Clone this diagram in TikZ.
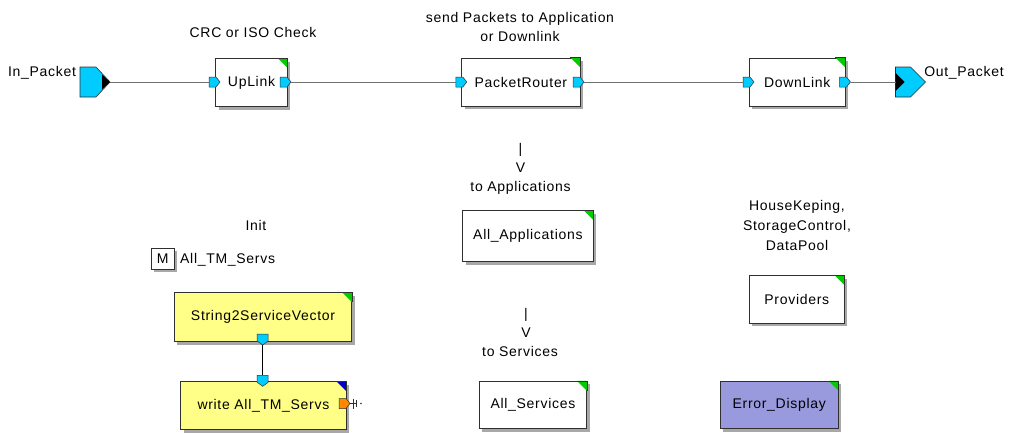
\documentclass[tikz,border=0pt]{standalone}
\usepackage{fontspec}
\setmainfont{Liberation Sans}[LetterSpace=5]
\usetikzlibrary{shadows}
\definecolor{portblue}{HTML}{00CCFF}
\definecolor{cgreen}{HTML}{00CC00}
\definecolor{cblue}{HTML}{0000CC}
\definecolor{byellow}{HTML}{FFFF88}
\definecolor{blav}{HTML}{9999DD}
\definecolor{porange}{HTML}{FF8800}
\definecolor{wire}{HTML}{707070}
\definecolor{shadowgray}{HTML}{A8A8A8}
\definecolor{edge}{HTML}{303030}
\tikzset{
  blk/.style={draw=edge, line width=0.8pt, fill=white, inner sep=0pt,
    drop shadow={shadow xshift=3pt, shadow yshift=-3pt, fill=shadowgray, opacity=1}},
  portbox/.style={inner sep=0pt, outer sep=0pt, minimum width=11pt, minimum height=10pt},
  downbox/.style={inner sep=0pt, outer sep=0pt, minimum width=11pt, minimum height=11pt},
  bigbox/.style={inner sep=0pt, outer sep=0pt, minimum width=30pt, minimum height=30pt},
  portfill/.style={draw=edge, line width=0.5pt, fill=portblue},
  wireline/.style={draw=wire, line width=0.9pt},
  lbl/.style={inner sep=0pt, align=center},
}
\newcommand\corner[2]{%
  \fill[#2] (#1.north east) -- ([xshift=-10pt]#1.north east) -- ([yshift=-10pt]#1.north east) -- cycle;
  \draw[edge, line width=0.8pt] ([xshift=-10pt]#1.north east) -- (#1.north east) -- ([yshift=-10pt]#1.north east);}
% right-pointing pentagon on a named node: #1 name, #2 chamfer, #3 style
\newcommand\penteast[3]{%
  \path[#3] (#1.north west) -- ([xshift=-#2]#1.north east) -- (#1.east) -- ([xshift=-#2]#1.south east) -- (#1.south west) -- cycle;}
\newcommand\pentsouth[3]{%
  \path[#3] (#1.north west) -- (#1.north east) -- ([yshift=#2]#1.south east) -- (#1.south) -- ([yshift=#2]#1.south west) -- cycle;}
\begin{document}
\begin{tikzpicture}[x=1pt,y=-1pt, font=\fontsize{14}{19}\selectfont]
\useasboundingbox (0,0) rectangle (1012,432);

% top row boxes
\node[blk, minimum width=71.6pt, minimum height=48pt] (ul) at (251.5,82.5) {UpLink};
\node[blk, minimum width=118.3pt, minimum height=48pt] (pr) at (520.9,82) {PacketRouter};
\node[blk, minimum width=95.7pt, minimum height=48pt] (dl) at (797.2,82) {DownLink};
\corner{ul}{cgreen}
\corner{pr}{cgreen}
\corner{dl}{cgreen}

% other boxes
\node[blk, minimum width=130.3pt, minimum height=51pt] (apps) at (527.9,236) {All\_Applications};
\node[blk, minimum width=95pt, minimum height=47.6pt] (prov) at (796.8,299.5) {Providers};
\node[blk, minimum width=107.7pt, minimum height=47.4pt] (serv) at (532.9,405) {All\_Services};
\node[blk, fill=blav, minimum width=118.3pt, minimum height=47.4pt] (err) at (779.2,405) {Error\_Display};
\node[blk, fill=byellow, minimum width=177.4pt, minimum height=49pt] (s2v) at (263,317.2) {String2ServiceVector};
\node[blk, fill=byellow, minimum width=165.3pt, minimum height=48pt] (wr) at (263.4,405.7) {write All\_TM\_Servs};
\node[blk, minimum width=23pt, minimum height=21pt] (mbox) at (162.7,258.8) {M};
\corner{apps}{cgreen}
\corner{prov}{cgreen}
\corner{serv}{cgreen}
\corner{err}{cgreen}
\corner{s2v}{cgreen}
\corner{wr}{cblue}

% ports
\node[portbox] (ul-in) at (214.5,82) {};
\node[portbox] (ul-out) at (285.5,82) {};
\node[portbox] (pr-in) at (461.3,82) {};
\node[portbox] (pr-out) at (578.5,82) {};
\node[portbox] (dl-in) at (748.5,82) {};
\node[portbox] (dl-out) at (845,82) {};
\node[downbox] (s2v-out) at (262.7,339.5) {};
\node[downbox] (wr-in) at (262.7,380.8) {};
\node[portbox] (wr-out) at (344.5,403.5) {};
\penteast{ul-in}{4pt}{portfill}
\penteast{ul-out}{4pt}{portfill}
\penteast{pr-in}{4pt}{portfill}
\penteast{pr-out}{4pt}{portfill}
\penteast{dl-in}{4pt}{portfill}
\penteast{dl-out}{4pt}{portfill}
\pentsouth{s2v-out}{4pt}{portfill}
\pentsouth{wr-in}{4pt}{portfill}
\penteast{wr-out}{4pt}{portfill, fill=porange}

% external ports
\node[bigbox] (inpk) at (95,82) {};
\penteast{inpk}{14pt}{portfill, line width=0.6pt}
\fill[black] (inpk.east) -- ([xshift=-8pt,yshift=7.5pt]inpk.east) -- ([xshift=-8pt,yshift=-7.5pt]inpk.east) -- cycle;
\node[bigbox] (outpk) at (910.5,82) {};
\penteast{outpk}{15pt}{portfill, line width=0.6pt}
\fill[black] ([yshift=9pt]outpk.west) -- ([xshift=9pt]outpk.west) -- ([yshift=-9pt]outpk.west) -- cycle;

% connectors
\draw[wireline] (inpk.east) -- (ul-in.west);
\draw[wireline] (ul-out.east) -- (pr-in.west);
\draw[wireline] (pr-out.east) -- (dl-in.west);
\draw[wireline] (dl-out.east) -- (outpk.west);
\draw[black, line width=0.8pt] (s2v-out.south) -- (wr-in.north);

% terminator on orange port
\coordinate (term) at ([xshift=7pt]wr-out.east);
\draw[edge, line width=0.6pt] (wr-out.east) -- (term);
\draw[edge, line width=0.8pt] ([xshift=3.5pt,yshift=5pt]wr-out.east) -- ([xshift=3.5pt,yshift=-5pt]wr-out.east);
\draw[edge, line width=0.6pt] ([xshift=6.5pt,yshift=3.5pt]wr-out.east) -- ([xshift=6.5pt,yshift=-3.5pt]wr-out.east);
\fill[edge] ([xshift=4pt]term) circle (0.8pt);

% labels
\node[lbl] (lin) at (42,73) {In\_Packet};
\node[lbl] (lout) at (964,73) {Out\_Packet};
\node[lbl] (lcrc) at (253,32) {CRC or ISO Check};
\node[lbl] (lsend) at (520,26.5) {send Packets to Application\\or Downlink};
\node[lbl] (lapps) at (520.5,168.5) {|\\V\\to Applications};
\node[lbl] (linit) at (256,225) {Init};
\node[lbl, anchor=west] (lmname) at (180,260) {All\_TM\_Servs};
\node[lbl] (lserv) at (520,332) {\hspace*{12pt}|\\\hspace*{12pt}V\\to Services};
\node[lbl, font=\fontsize{14}{20}\selectfont] (lprov) at (797,225) {HouseKeping,\\StorageControl,\\DataPool};
\end{tikzpicture}
\end{document}
